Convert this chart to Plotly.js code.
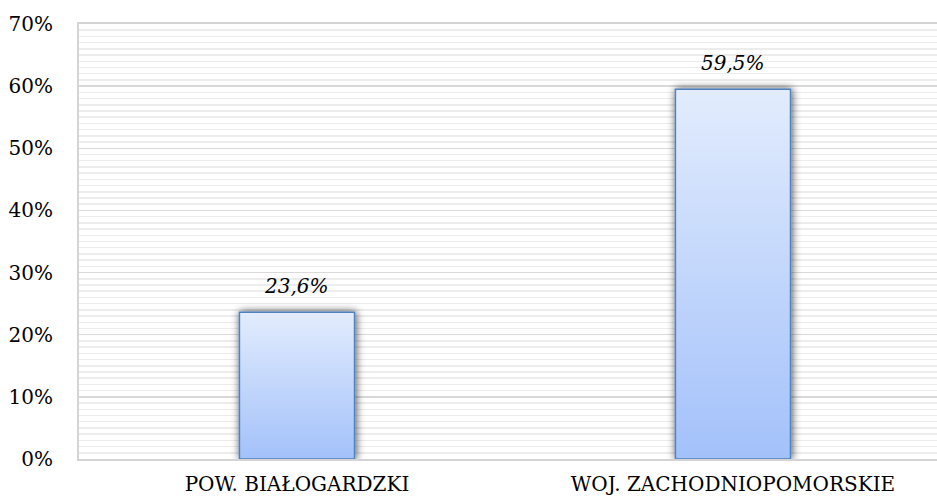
<!DOCTYPE html>
<html><head><meta charset="utf-8">
<script src="https://cdn.plot.ly/plotly-3.0.1.min.js"></script>
<style>html,body{margin:0;padding:0;background:#fff;}</style>
</head><body>
<div id="chart" style="width:937px;height:498px;"></div>
<script>
const categories = ["POW. BIAŁOGARDZKI", "WOJ. ZACHODNIOPOMORSKIE"];
const values = [0.236, 0.595];
const valueLabels = ["23,6%", "59,5%"];
const yTickValues = [0, 0.1, 0.2, 0.3, 0.4, 0.5, 0.6, 0.7];

const trace = {
  type: 'bar',
  x: categories,
  y: values,
  width: 0.264,
  marker: {color: '#c5d8fc', line: {color: '#4f81bd', width: 1.5}},
  hoverinfo: 'none'
};

const annotations = categories.map(function(c, i){
  return {
    x: c, y: values[i], xref: 'x', yref: 'y',
    text: valueLabels[i], showarrow: false,
    yanchor: 'bottom', yshift: 12,
    font: {family: 'DejaVu Serif', size: 20, color: '#000', style: 'italic'}
  };
});

const layout = {
  width: 937, height: 498,
  margin: {l: 79, r: 0, t: 24, b: 39},
  separators: ', ',
  paper_bgcolor: '#fff', plot_bgcolor: '#fff',
  showlegend: false,
  annotations: annotations,
  xaxis: {
    range: [-0.5, 1.468],
    showgrid: false, zeroline: false,
    showline: true, linecolor: '#d4d4d4', linewidth: 2, mirror: true,
    ticks: '', ticklabelstandoff: 6,
    tickfont: {family: 'DejaVu Serif', size: 20, color: '#000'},
    fixedrange: true
  },
  yaxis: {
    range: [0, 0.7],
    tickvals: yTickValues,
    tickformat: '.0%',
    showgrid: true, gridcolor: '#d9d9d9', gridwidth: 1.5,
    minor: {dtick: 0.01, showgrid: true, gridcolor: '#ececec', gridwidth: 1.5},
    zeroline: false,
    showline: true, linecolor: '#d4d4d4', linewidth: 2, mirror: true,
    ticks: '', ticklabelstandoff: 20,
    tickfont: {family: 'DejaVu Serif', size: 20, color: '#000'},
    fixedrange: true
  }
};

Plotly.newPlot('chart', [trace], layout, {displayModeBar: false, staticPlot: true}).then(function(gd){
  const svg = gd.querySelector('svg.main-svg');
  const ns = 'http://www.w3.org/2000/svg';
  let defs = svg.querySelector('defs');
  if (!defs) { defs = document.createElementNS(ns, 'defs'); svg.insertBefore(defs, svg.firstChild); }
  const grad = document.createElementNS(ns, 'linearGradient');
  grad.setAttribute('id', 'barGrad');
  grad.setAttribute('x1', '0'); grad.setAttribute('y1', '0');
  grad.setAttribute('x2', '0'); grad.setAttribute('y2', '1');
  [['0', '#e2ecfd'], ['1', '#a3c1fa']].forEach(function(s){
    const st = document.createElementNS(ns, 'stop');
    st.setAttribute('offset', s[0]); st.setAttribute('stop-color', s[1]);
    grad.appendChild(st);
  });
  defs.appendChild(grad);
  const filt = document.createElementNS(ns, 'filter');
  filt.setAttribute('id', 'barShadow');
  filt.setAttribute('x', '-30%'); filt.setAttribute('y', '-30%');
  filt.setAttribute('width', '160%'); filt.setAttribute('height', '160%');
  filt.innerHTML = '<feGaussianBlur in="SourceAlpha" stdDeviation="4"/><feOffset dx="1" dy="0" result="b"/><feComponentTransfer><feFuncA type="linear" slope="0.7"/></feComponentTransfer><feMerge><feMergeNode/><feMergeNode in="SourceGraphic"/></feMerge>';
  defs.appendChild(filt);
  gd.querySelectorAll('.trace.bars .point path').forEach(function(p){
    p.style.fill = 'url(#barGrad)';
    p.setAttribute('filter', 'url(#barShadow)');
  });
});
</script>
</body></html>
